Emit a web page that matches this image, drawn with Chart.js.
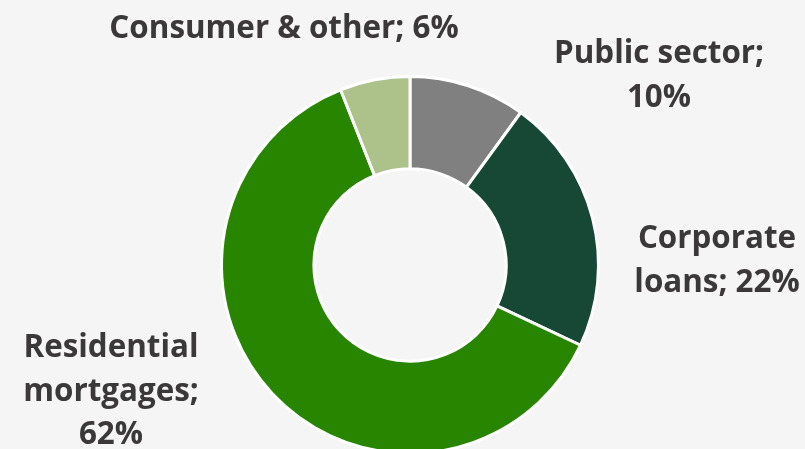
<!DOCTYPE html>
<html lang="en">
<head>
  <meta charset="UTF-8">
  <title>Loan portfolio</title>
  <script src="https://cdn.jsdelivr.net/npm/chart.js"></script>
  <style>
    html, body {
      margin: 0;
      padding: 0;
      background: #f5f5f5;
      overflow: hidden;
    }
    .wrap {
      width: 805px;
      height: 470px;
    }
  </style>
</head>
<body>
  <div class="wrap"><canvas id="donut"></canvas></div>

  <script>
    // data
    const categories = ["Public sector", "Corporate loans", "Residential mortgages", "Consumer & other"];
    const shares = [10, 22, 62, 6];
    const colors = ["#808080", "#174836", "#288500", "#adc18a"];

    // label lines and where they sit (centre x, first baseline y)
    const labelLines = [
      ["Public sector;", "10%"],
      ["Corporate", "loans; 22%"],
      ["Residential", "mortgages;", "62%"],
      ["Consumer & other; 6%"]
    ];
    const labelPos = [[659, 63], [717, 248], [111, 357], [284, 38]];

    const textLabels = {
      id: 'textLabels',
      afterDraw(chart) {
        const ctx = chart.ctx;
        ctx.save();
        ctx.fillStyle = '#3a3838';
        ctx.font = 'bold 32px "Open Sans"';
        ctx.textAlign = 'center';
        ctx.textBaseline = 'alphabetic';
        labelLines.forEach((lines, i) => {
          lines.forEach((t, j) => {
            ctx.save();
            ctx.translate(labelPos[i][0], labelPos[i][1] + j * 43.5);
            ctx.scale(0.98, 1);
            ctx.fillText(t, 0, 0);
            ctx.restore();
          });
        });
        ctx.restore();
      }
    };

    new Chart(document.getElementById("donut"), {
      type: 'doughnut',
      data: {
        labels: categories,
        datasets: [{
          data: shares,
          backgroundColor: colors,
          borderColor: '#ffffff',
          borderWidth: 3
        }]
      },
      options: {
        responsive: true,
        maintainAspectRatio: false,
        animation: false,
        cutout: '51%',
        layout: { padding: { top: 75, bottom: 15, left: 15, right: 0 } },
        plugins: {
          legend: { display: false },
          tooltip: { enabled: false }
        }
      },
      plugins: [textLabels]
    });
  </script>
</body>
</html>
